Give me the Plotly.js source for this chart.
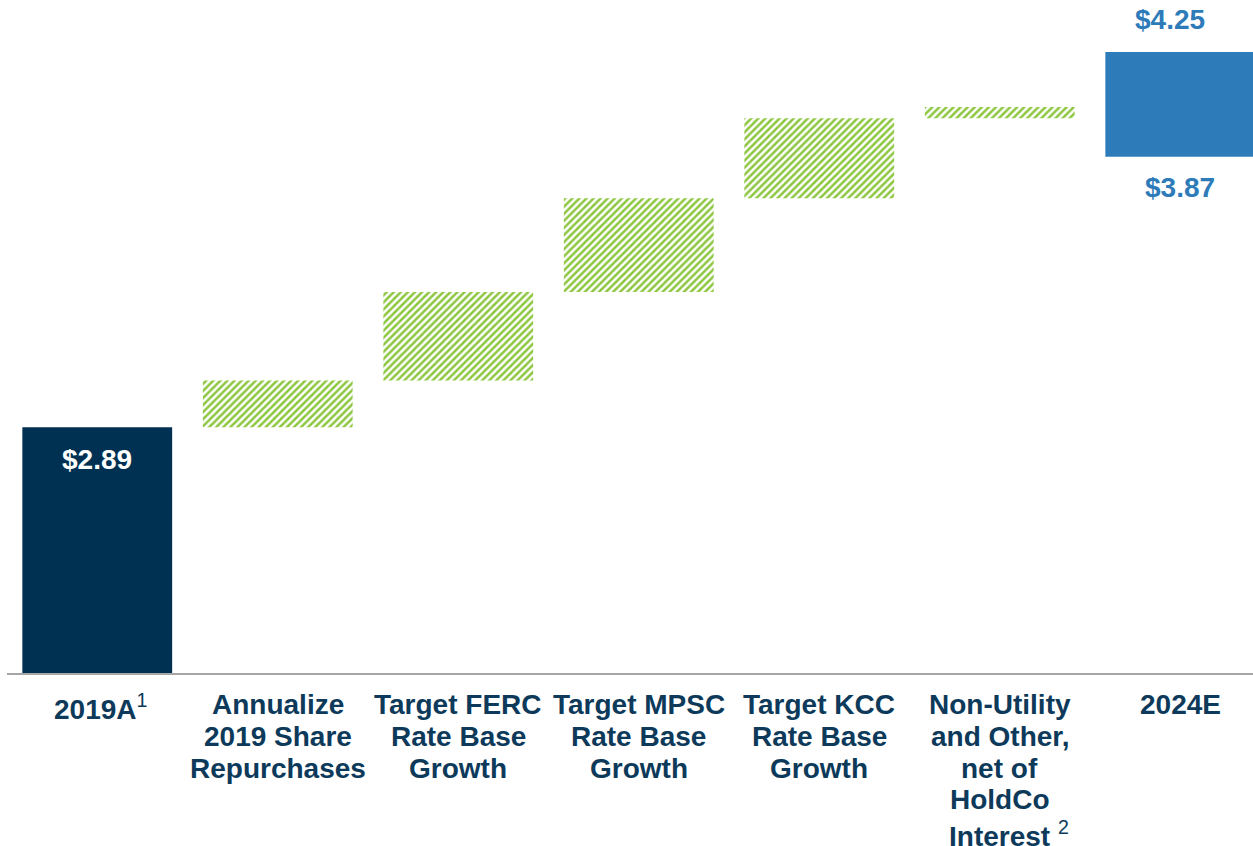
<!DOCTYPE html>
<html>
<head>
<meta charset="utf-8">
<script src="https://cdn.plot.ly/plotly-3.0.1.min.js"></script>
<style>html,body{margin:0;padding:0;background:#fff;}#chart{width:1253px;height:846px;}</style>
</head>
<body>
<div id="chart"></div>
<script>
// ---- data ----
const categories = ['2019A', 'Share Repurchases', 'FERC', 'MPSC', 'KCC', 'Non-Utility', '2024E'];
const categoryLines = [
  ['2019A<sup style="font-size:17px;font-weight:normal">1</sup>'],
  ['Annualize', '2019 Share', 'Repurchases'],
  ['Target FERC', 'Rate Base', 'Growth'],
  ['Target MPSC', 'Rate Base', 'Growth'],
  ['Target KCC', 'Rate Base', 'Growth'],
  ['Non-Utility', 'and Other,', 'net of', 'HoldCo', 'Interest <sup style="font-weight:normal">2</sup>']
  ,['2024E']
];
const start2019 = 2.89;
const stepValues = [0.17, 0.32, 0.34, 0.29, 0.04];
const range2024 = [3.87, 4.25];
const startLabel = '$2.89';
const endLabels = ['$3.87', '$4.25'];

// ---- build ----
const navy = '#003152';
const blue = '#2E7BBA';
const green = '#8DC63F';
const labelColor = '#0D3A5A';
const font = 'Liberation Sans, Arial, sans-serif';

const stepCats = categories.slice(1, 6);
const stepBases = [];
let acc = start2019;
stepValues.forEach(v => { stepBases.push(acc); acc += v; });

const barW = 0.83;
const traces = [
  {type: 'bar', x: [categories[0]], y: [start2019], base: [0], width: barW,
   marker: {color: navy, line: {width: 0}}, hoverinfo: 'skip'},
  {type: 'bar', x: stepCats, y: stepValues, base: stepBases, width: barW,
   marker: {color: 'white', line: {width: 0},
            pattern: {shape: '/', size: 5, solidity: 0.5, fgcolor: green, bgcolor: 'white', fillmode: 'replace'}},
   hoverinfo: 'skip'},
  {type: 'bar', x: [categories[6]], y: [range2024[1] - range2024[0]], base: [range2024[0]], width: barW,
   marker: {color: blue, line: {width: 0}}, hoverinfo: 'skip'}
];

const annotations = [];
categoryLines.forEach((lines, ci) => {
  lines.forEach((ln, li) => {
    annotations.push({
      x: categories[ci], xref: 'x', y: 0, yref: 'paper', yanchor: 'top', xanchor: 'center',
      yshift: -(14 + li * 31.8), xshift: ln.indexOf('<sup') >= 0 ? (ci === 5 ? 9 : 3) : 0,
      text: ln, showarrow: false,
      font: {family: font, size: 28, color: labelColor, weight: 'bold'}
    });
  });
});
annotations.push({x: categories[0], y: start2019, xref: 'x', yref: 'y', yanchor: 'middle', yshift: -32,
  text: startLabel, showarrow: false, font: {family: font, size: 28, color: 'white', weight: 'bold'}});
annotations.push({x: categories[6], y: range2024[0], xref: 'x', yref: 'y', yanchor: 'middle', yshift: -31,
  text: endLabels[0], showarrow: false, font: {family: font, size: 28, color: blue, weight: 'bold'}});
annotations.push({x: categories[6], y: range2024[1], xref: 'x', yref: 'y', yanchor: 'middle', yshift: 32, xshift: -10,
  text: endLabels[1], showarrow: false, font: {family: font, size: 28, color: blue, weight: 'bold'}});

const layout = {
  width: 1253, height: 846,
  margin: {l: 7, r: 0, t: 0, b: 173, pad: 0},
  paper_bgcolor: '#fff', plot_bgcolor: '#fff',
  showlegend: false, barmode: 'overlay',
  xaxis: {type: 'category', range: [-0.5, 6.403], showticklabels: false, ticks: '',
          showgrid: false, zeroline: false, showline: true, linecolor: '#A6A6A6', linewidth: 2, fixedrange: true},
  yaxis: {range: [2.0, 4.438], visible: false, showgrid: false, zeroline: false, fixedrange: true},
  annotations: annotations
};

Plotly.newPlot('chart', traces, layout, {displayModeBar: false, staticPlot: true});
</script>
</body>
</html>
